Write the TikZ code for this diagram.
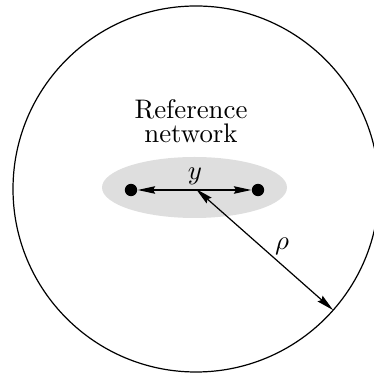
\documentclass[tikz,border=0pt]{standalone}
\usetikzlibrary{arrows.meta,calc}
\begin{document}
\begin{tikzpicture}[x=0.3726pt,y=0.3726pt,
  tip/.style={-{Stealth[length=6.5pt,width=2.8pt,inset=0.8pt]}},
  both/.style={{Stealth[length=6.5pt,width=2.8pt,inset=0.8pt]}-{Stealth[length=6.5pt,width=2.8pt,inset=0.8pt]}},
  dotnode/.style={circle,fill=black,inner sep=0pt,minimum size=4.6pt},
  lbl/.style={inner sep=0pt,font=\fontsize{10pt}{8.6pt}\selectfont}]
\useasboundingbox (0,0) rectangle (374,374);
\clip (0,0) rectangle (374,374);
\coordinate (C) at (196,185);
\draw[line width=0.45pt] (C) circle[radius=183];
\coordinate (P) at ($(C)+(-41.45:183)$);
\fill[black!13] (194.5,186.5) ellipse[x radius=92.5,y radius=30.5];
\node[dotnode] (L) at (131,184) {};
\node[dotnode] (R) at (258,184) {};
\draw[both,line width=0.45pt] (L) -- (R);
\node[lbl] (ylab) at (195,198) {$y$};
\draw[both,line width=0.45pt] (C) -- (P);
\node[lbl] (rho) at (282,128) {$\rho$};
\node[lbl,align=center] (txt) at (191,252.8) {Reference\\network};
\end{tikzpicture}
\end{document}
